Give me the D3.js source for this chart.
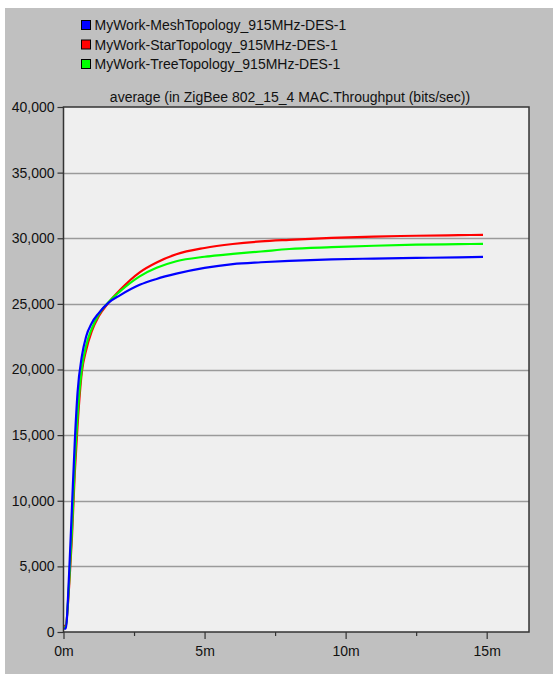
<!DOCTYPE html>
<html>
<head>
<meta charset="utf-8">
<script src="https://cdn.jsdelivr.net/npm/d3@7"></script>
<style>
  html, body { margin: 0; padding: 0; background: #ffffff; }
  svg { display: block; }
  text { font-family: "Liberation Sans", Arial, sans-serif; fill: #111; }
</style>
</head>
<body>
<svg id="chart" width="553" height="674"></svg>
<script>
// Simulation time (minutes) at which the averaged throughput was sampled
const minutes = [0.02, 0.08, 0.2, 0.3, 0.4, 0.5, 0.65, 0.8, 1.0, 1.25, 1.6, 2.0, 2.7,
                 3.3, 4.0, 5.0, 6.0, 7.0, 8.0, 9.5, 11, 12.5, 14, 14.87];

// Average ZigBee 802.15.4 MAC throughput (bits/sec) per topology
const meshValues = [250, 250, 4500, 9500, 14500, 18300, 21000, 22500, 23530, 24300, 25100, 25650, 26450,
                    26900, 27300, 27740, 28030, 28170, 28275, 28390, 28450, 28500, 28550, 28582];
const starValues = [450, 500, 3500, 7200, 12100, 15800, 19800, 21450, 22900, 24050, 25100, 26050, 27400,
                    28150, 28780, 29260, 29560, 29760, 29880, 30030, 30130, 30190, 30235, 30260];
const treeValues = [350, 400, 3800, 7800, 12800, 16500, 20100, 21800, 23100, 24200, 25150, 25950, 27100,
                    27750, 28250, 28590, 28810, 28990, 29180, 29320, 29430, 29510, 29550, 29573];

const seriesNames = ["MyWork-MeshTopology_915MHz-DES-1",
                     "MyWork-StarTopology_915MHz-DES-1",
                     "MyWork-TreeTopology_915MHz-DES-1"];
const seriesColors = ["#0000ff", "#ff0000", "#00ff00"];
const seriesValues = [meshValues, starValues, treeValues];

const yTicks = [0, 5000, 10000, 15000, 20000, 25000, 30000, 35000, 40000];
const xMajorTicks = [0, 5, 10, 15];
const xMinorTicks = [2.5, 7.5, 12.5];
const chartTitle = "average (in ZigBee 802_15_4 MAC.Throughput (bits/sec))";

const FONT = "Liberation Sans, Arial, sans-serif";
const FONT_SIZE = 14;

const svg = d3.select("#chart");

// Grey window panel
svg.append("rect")
  .attr("x", 5).attr("y", 8).attr("width", 548).attr("height", 666)
  .attr("fill", "#c0c0c0");

const plot = { left: 63.5, right: 529, top: 107, bottom: 632 };

const x = d3.scaleLinear().domain([0, 16.5]).range([plot.left, plot.right]);
const y = d3.scaleLinear().domain([0, 40000]).range([plot.bottom, plot.top]);

// Plot background
svg.append("rect")
  .attr("x", plot.left).attr("y", plot.top)
  .attr("width", plot.right - plot.left).attr("height", plot.bottom - plot.top)
  .attr("fill", "#efefef");

// Horizontal grid lines
svg.append("g")
  .selectAll("line")
  .data(yTicks.filter(d => d > 0 && d < 40000))
  .join("line")
  .attr("x1", plot.left).attr("x2", plot.right)
  .attr("y1", d => Math.round(y(d)) + 0.5).attr("y2", d => Math.round(y(d)) + 0.5)
  .attr("stroke", "#9a9a9a").attr("stroke-width", 1.5);

// Legend
const legend = svg.append("g");
seriesNames.forEach((name, i) => {
  const cy = 25 + i * 19.5;
  legend.append("rect")
    .attr("x", 81.5).attr("y", cy - 4.5).attr("width", 9).attr("height", 9)
    .attr("fill", seriesColors[i]).attr("stroke", "#000").attr("stroke-width", 1);
  legend.append("text")
    .attr("x", 94.5).attr("y", cy).attr("dy", "0.36em")
    .attr("font-size", FONT_SIZE)
    .text(name);
});

// Title above the plot
svg.append("text")
  .attr("x", 290).attr("y", 102)
  .attr("text-anchor", "middle")
  .attr("font-size", FONT_SIZE)
  .text(chartTitle);

// Series lines
const line = d3.line()
  .x(d => x(d[0]))
  .y(d => y(d[1]))
  .curve(d3.curveMonotoneX);

const drawOrder = [1, 2, 0];
svg.append("g")
  .selectAll("path")
  .data(drawOrder)
  .join("path")
  .attr("d", i => line(minutes.map((t, k) => [t, seriesValues[i][k]])))
  .attr("fill", "none")
  .attr("stroke", i => seriesColors[i])
  .attr("stroke-width", 2.2)
  .attr("stroke-linejoin", "round");

// Plot frame
svg.append("rect")
  .attr("x", plot.left).attr("y", plot.top)
  .attr("width", plot.right - plot.left).attr("height", plot.bottom - plot.top)
  .attr("fill", "none").attr("stroke", "#333").attr("stroke-width", 1.5);

// Y axis
const yAxis = svg.append("g")
  .attr("transform", `translate(${plot.left},0)`)
  .call(d3.axisLeft(y).tickValues(yTicks).tickFormat(d3.format(",")).tickSize(6).tickPadding(3).tickSizeOuter(0));
yAxis.select(".domain").remove();
yAxis.selectAll(".tick line").attr("stroke", "#333").attr("stroke-width", 1.2);
yAxis.selectAll(".tick text").attr("font-size", FONT_SIZE).attr("font-family", FONT).attr("fill", "#111");

// X axis: major ticks with labels, minor ticks without
const xAxis = svg.append("g")
  .attr("transform", `translate(0,${plot.bottom})`)
  .call(d3.axisBottom(x).tickValues(xMajorTicks).tickFormat(d => d + "m").tickSize(7).tickPadding(7).tickSizeOuter(0));
xAxis.select(".domain").remove();
xAxis.selectAll(".tick line").attr("stroke", "#333").attr("stroke-width", 1.2);
xAxis.selectAll(".tick text").attr("font-size", FONT_SIZE).attr("font-family", FONT).attr("fill", "#111");

const xMinor = svg.append("g")
  .attr("transform", `translate(0,${plot.bottom})`)
  .call(d3.axisBottom(x).tickValues(xMinorTicks).tickFormat("").tickSize(4).tickSizeOuter(0));
xMinor.select(".domain").remove();
xMinor.selectAll(".tick line").attr("stroke", "#333").attr("stroke-width", 1.2);
</script>
</body>
</html>
